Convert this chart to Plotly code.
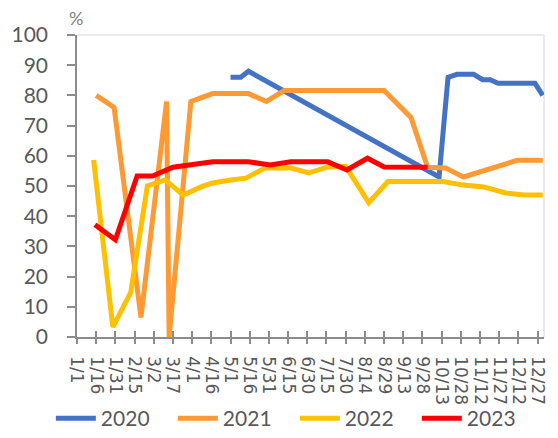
import plotly.graph_objects as go

YEAR = "2021"  # common (non-leap) dummy year for a Jan-Dec axis

tick_labels = ["1/1", "1/16", "1/31", "2/15", "3/2", "3/17", "4/1", "4/16", "5/1", "5/16",
               "5/31", "6/15", "6/30", "7/15", "7/30", "8/14", "8/29", "9/13", "9/28",
               "10/13", "10/28", "11/12", "11/27", "12/12", "12/27"]

dates_2020 = ["05-01", "05-09", "05-15", "10-11", "10-18", "10-25", "11-07", "11-14",
              "11-20", "11-26", "12-25", "12-31"]
vals_2020 = [86, 86, 88, 53, 86, 87, 87, 85.2, 85.2, 84, 84, 80]

dates_2021 = ["01-16", "01-30", "02-20", "03-12", "03-14", "03-31", "04-17", "05-15",
              "05-29", "06-12", "08-29", "09-19", "10-02", "10-16", "10-30", "12-11", "12-31"]
vals_2021 = [80, 76, 6.5, 78, 0, 78, 80.6, 80.6, 78, 81.6, 81.6, 72.7, 56.2, 56, 53, 58.5, 58.5]

dates_2022 = ["01-14", "01-29", "02-12", "02-25", "03-11", "03-25", "04-08", "04-17",
              "05-01", "05-13", "05-28", "06-17", "07-01", "07-16", "07-30", "08-17",
              "09-01", "10-14", "10-30", "11-15", "12-02", "12-16", "12-31"]
vals_2022 = [58.6, 3.3, 14.8, 50, 52, 47, 49.7, 51, 52, 52.6, 56, 56, 54.3, 56.3, 56.5,
             44.5, 51.5, 51.5, 50.3, 49.7, 47.7, 47, 47]

dates_2023 = ["01-15", "01-31", "02-17", "03-01", "03-17", "04-08", "04-17", "05-15",
              "06-01", "06-17", "07-16", "07-31", "08-16", "08-29", "10-02"]
vals_2023 = [37.2, 32.2, 53.3, 53.3, 56.2, 57.6, 58, 58, 57, 58, 58, 55.3, 59.2, 56.3, 56.2]

series = [
    ("2020", dates_2020, vals_2020, "#4472C4", "x"),
    ("2021", dates_2021, vals_2021, "#FF9933", "x"),
    ("2022", dates_2022, vals_2022, "#FFC000", "x"),
    ("2023", dates_2023, vals_2023, "#FF0000", "x2"),
]


def to_date(md):
    return f"{YEAR}-{md}"


def label_to_date(lbl):
    m, d = lbl.split("/")
    return f"{YEAR}-{int(m):02d}-{int(d):02d}"


tick_vals = [label_to_date(t) for t in tick_labels]

fig = go.Figure()
for name, ds, vs, col, xa in series:
    fig.add_trace(go.Scatter(
        x=[to_date(d) for d in ds], y=vs, name=name, mode="lines", xaxis=xa, yaxis="y",
        line=dict(color=col, width=5, shape="linear"),
    ))

AX = "#8C8C8C"
TXT = "#595959"
FONT = "Lato"
xrange = [f"{YEAR}-01-01", "2022-01-01"]

fig.update_layout(
    width=558, height=438,
    margin=dict(l=77, r=14, t=35, b=101, autoexpand=False),
    paper_bgcolor="white", plot_bgcolor="white",
    font=dict(family=FONT, color=TXT),
    showlegend=True,
    legend=dict(orientation="h", xref="paper", yref="paper",
                x=-0.056, xanchor="left", y=-0.27, yanchor="middle",
                bgcolor="rgba(0,0,0,0)",
                font=dict(size=21, color=TXT, family=FONT),
                entrywidth=67, entrywidthmode="pixels", itemwidth=40,
                traceorder="normal"),
    xaxis=dict(type="date", range=xrange, tickmode="array", tickvals=tick_vals,
               ticktext=tick_labels, tickangle=90, ticks="outside", ticklen=5,
               tickwidth=1.5, tickcolor=AX, showline=True, linecolor=AX, linewidth=1.5,
               showgrid=False, zeroline=False, ticklabelstandoff=9, automargin=False,
               tickfont=dict(size=17, color=TXT, family="DejaVu Sans")),
    xaxis2=dict(type="date", range=xrange, overlaying="x", anchor="y", side="bottom",
                tickmode="array", tickvals=tick_vals, ticks="inside", ticklen=6,
                tickwidth=1.5, tickcolor=AX, showticklabels=False, showline=False,
                showgrid=False, zeroline=False, automargin=False),
    yaxis=dict(range=[0, 100], tickmode="linear", tick0=0, dtick=10, ticks="outside",
               ticklen=8, tickwidth=1.5, tickcolor=AX, showline=True, linecolor=AX,
               linewidth=1.5, showgrid=False, zeroline=False, ticklabelstandoff=15,
               automargin=False,
               tickfont=dict(size=21, color=TXT, family=FONT)),
    shapes=[
        dict(type="line", xref="paper", yref="paper", x0=0, x1=1, y0=1, y1=1,
             line=dict(color="#E3E3E3", width=1.5), layer="below"),
        dict(type="line", xref="paper", yref="paper", x0=1, x1=1, y0=0, y1=1,
             line=dict(color="#E3E3E3", width=1.5), layer="below"),
    ],
    annotations=[
        dict(text="%", xref="paper", yref="paper", x=0, y=1, xanchor="center",
             yanchor="bottom", yshift=4, xshift=-1, showarrow=False,
             font=dict(size=18, color="#7F7F7F", family=FONT)),
    ],
)

fig.write_html("out.html")
